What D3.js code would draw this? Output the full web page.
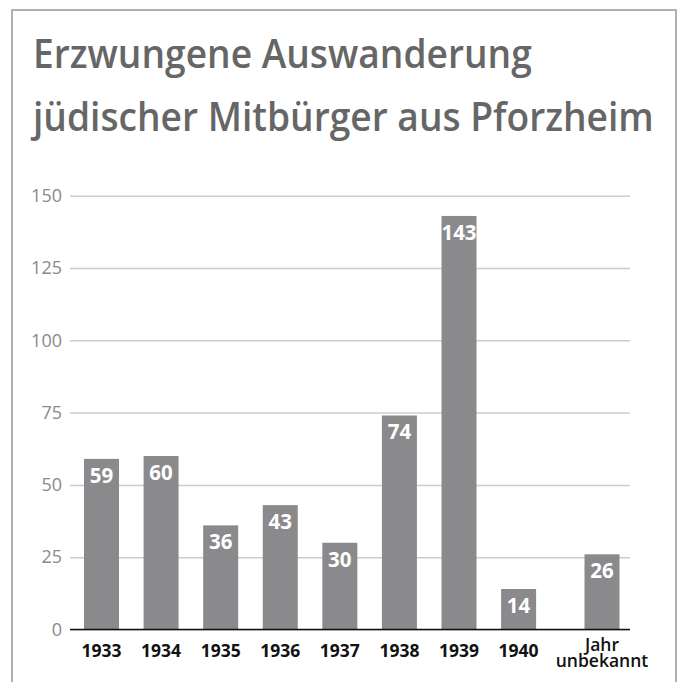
<!DOCTYPE html>
<html>
<head>
<meta charset="utf-8">
<script src="https://cdn.jsdelivr.net/npm/d3@7"></script>
<style>
  html, body { margin: 0; padding: 0; background: #fff; }
  svg { display: block; }
  text { font-family: "Open Sans", "Noto Sans", sans-serif; }
</style>
</head>
<body>
<svg id="chart" width="680" height="682"></svg>
<script>
const titleLines = ["Erzwungene Auswanderung", "jüdischer Mitbürger aus Pforzheim"];
const categories = ["1933", "1934", "1935", "1936", "1937", "1938", "1939", "1940", "Jahr\nunbekannt"];
const values = [59, 60, 36, 43, 30, 74, 143, 14, 26];
const yTicks = [0, 25, 50, 75, 100, 125, 150];

const svg = d3.select("#chart");

// outer frame
svg.append("rect")
  .attr("x", 12).attr("y", 10)
  .attr("width", 664).attr("height", 700)
  .attr("fill", "none").attr("stroke", "#b0b0b0").attr("stroke-width", 2);

// title (condensed by horizontal scaling to match the narrow original face)
const titleWidths = [499, 621];
svg.selectAll("text.title")
  .data(titleLines)
  .join("text")
  .attr("class", "title")
  .attr("font-size", 39)
  .attr("font-weight", 600)
  .attr("fill", "#666666")
  .text(d => d)
  .each(function(d, i) {
    const len = this.getComputedTextLength();
    const sx = titleWidths[i] / len;
    d3.select(this).attr("transform", `translate(33,${68 + i * 63}) scale(${sx},1)`);
  });

const plotLeft = 70, plotRight = 630;
const y = d3.scaleLinear().domain([0, 150]).range([629.5, 195.7]);

// slot index: the last category sits a bit apart
const slot = i => (i < 8 ? i : i + 0.4);
const x = d3.scaleLinear().domain([0, 8.4]).range([101.5, 602]);
const barW = 35;

// y axis with gridlines
const yAxis = d3.axisLeft(y)
  .tickValues(yTicks)
  .tickSize(-(plotRight - plotLeft))
  .tickPadding(8)
  .tickFormat(d3.format("d"));

const gy = svg.append("g")
  .attr("transform", `translate(${plotLeft},0)`)
  .call(yAxis);
gy.select(".domain").remove();
gy.selectAll(".tick line")
  .attr("stroke", "#cccccc")
  .attr("stroke-width", 1.5);
gy.selectAll(".tick text")
  .attr("fill", "#8a8a8a")
  .attr("font-size", 18)
  .attr("font-family", "'Open Sans', sans-serif");

// bars
svg.selectAll("rect.bar")
  .data(values)
  .join("rect")
  .attr("class", "bar")
  .attr("x", (d, i) => x(slot(i)) - barW / 2)
  .attr("y", d => y(d))
  .attr("width", barW)
  .attr("height", d => y(0) - y(d))
  .attr("fill", "#8a8a8c");

// zero baseline
svg.append("line")
  .attr("x1", plotLeft).attr("x2", plotRight)
  .attr("y1", y(0)).attr("y2", y(0))
  .attr("stroke", "#111").attr("stroke-width", 1.5);

// value labels
svg.selectAll("text.val")
  .data(values)
  .join("text")
  .attr("class", "val")
  .attr("x", (d, i) => x(slot(i)))
  .attr("y", d => y(d) + 24)
  .attr("text-anchor", "middle")
  .attr("font-size", 20.5)
  .attr("font-weight", 700)
  .attr("fill", "#ffffff")
  .text(d => d);

// category labels
const cat = svg.selectAll("text.cat")
  .data(categories)
  .join("text")
  .attr("class", "cat")
  .attr("text-anchor", "middle")
  .attr("font-size", 17.5)
  .attr("font-weight", 700)
  .attr("fill", "#111");
cat.each(function(d, i) {
  const lines = d.split("\n");
  const t = d3.select(this);
  const cx = x(slot(i));
  const base = lines.length > 1 ? 651 : 657;
  lines.forEach((ln, j) => {
    t.append("tspan")
      .attr("x", cx)
      .attr("y", base + j * 15.5)
      .attr("font-weight", lines.length > 1 ? 600 : 700)
      .text(ln);
  });
});
</script>
</body>
</html>
